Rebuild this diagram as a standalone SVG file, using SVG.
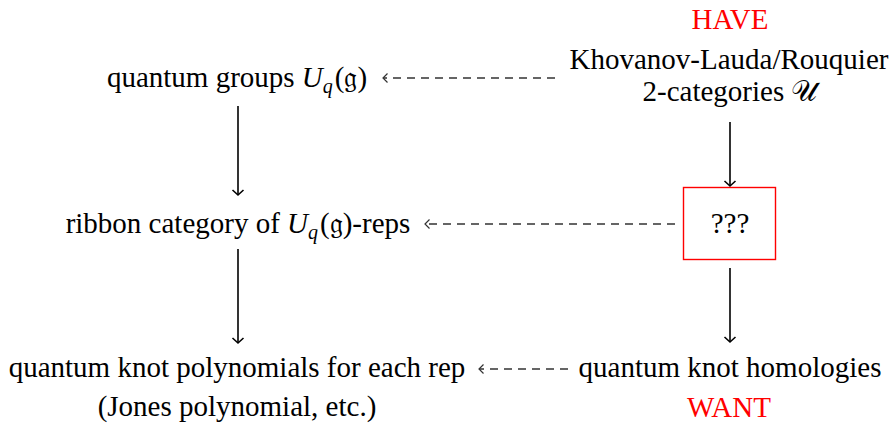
<svg xmlns="http://www.w3.org/2000/svg" width="892" height="423" viewBox="0 0 892 423">
<defs>
<style>
text{font-family:"Liberation Serif","Times New Roman",serif;font-size:29px;fill:#000;text-anchor:middle}
.red{fill:#f00}
.it{font-style:italic}
.solid{stroke:#000;stroke-width:1.6;fill:none}
.dash{stroke:#333;stroke-width:1.3;fill:none;stroke-dasharray:8 6}
</style>
<marker id="ah" markerWidth="14" markerHeight="14" refX="7" refY="7" orient="auto" markerUnits="userSpaceOnUse">
<path d="M2,1.5 L7,7 L2,12.5" fill="none" stroke="#000" stroke-width="1.6"/>
</marker>
<marker id="ahd" markerWidth="12" markerHeight="12" refX="6" refY="6" orient="auto" markerUnits="userSpaceOnUse">
<path d="M1.5,1.5 L6,6 L1.5,10.5" fill="none" stroke="#333" stroke-width="1.2"/>
</marker>
</defs>
<g id="have"><text class="red" x="730" y="29">HAVE</text></g>
<g id="klr"><text x="729" y="69">Khovanov-Lauda/Rouquier</text><text x="730" y="101">2-categories 𝒰</text></g>
<g id="qgroups"><text x="237" y="87">quantum groups <tspan class="it">U</tspan><tspan class="it" font-size="20" dy="6">q</tspan><tspan dx="2" dy="-6">(𝔤)</tspan></text></g>
<g id="ribbon"><text x="238" y="233">ribbon category of <tspan class="it">U</tspan><tspan class="it" font-size="20" dy="6">q</tspan><tspan dx="2" dy="-6">(𝔤)-reps</tspan></text></g>
<g id="unknown"><rect x="683.5" y="187.5" width="92" height="72" fill="none" stroke="#f00" stroke-width="1.4"/><text x="730" y="233">???</text></g>
<g id="polys"><text x="237" y="377">quantum knot polynomials for each rep</text><text x="237" y="416">(Jones polynomial, etc.)</text></g>
<g id="homologies"><text x="730" y="377">quantum knot homologies</text></g>
<g id="want"><text class="red" x="729" y="417">WANT</text></g>
<g id="connectors">
<line class="solid" x1="238" y1="106" x2="238" y2="195" marker-end="url(#ah)"/>
<line class="solid" x1="238" y1="249" x2="238" y2="343" marker-end="url(#ah)"/>
<line class="solid" x1="730" y1="122" x2="730" y2="186" marker-end="url(#ah)"/>
<line class="solid" x1="730" y1="268" x2="730" y2="342" marker-end="url(#ah)"/>
<line class="dash" x1="555" y1="78" x2="383" y2="78" marker-end="url(#ahd)"/>
<line class="dash" x1="675" y1="224" x2="425" y2="224" marker-end="url(#ahd)"/>
<line class="dash" x1="568" y1="369" x2="479" y2="369" marker-end="url(#ahd)"/>
</g>
</svg>
